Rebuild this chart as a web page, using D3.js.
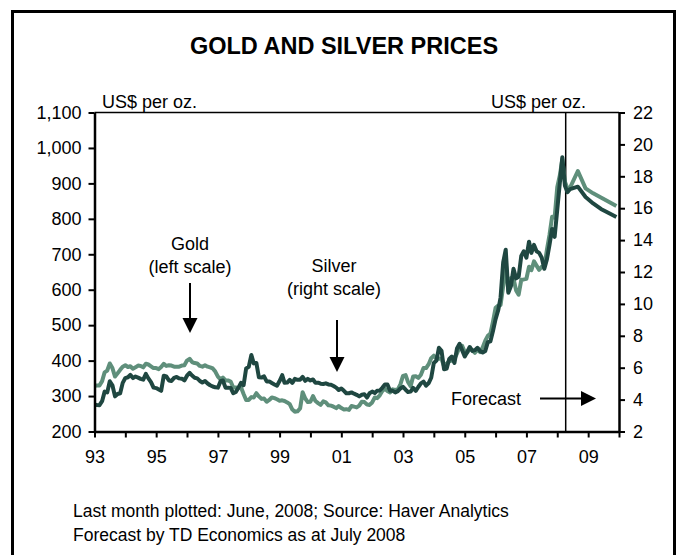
<!DOCTYPE html>
<html>
<head>
<meta charset="utf-8">
<script src="https://cdn.jsdelivr.net/npm/d3@7"></script>
<style>
  html, body { margin: 0; padding: 0; background: #fff; }
  svg { display: block; font-family: "Liberation Sans", Arial, sans-serif; }
</style>
</head>
<body>
<svg id="chart" width="681" height="555"></svg>
<script>
// Monthly averages, January 1993 to June 2008 (US$ per troy ounce)
const firstYear = 1993;
const goldActual = [
  329, 330, 330, 342, 367, 372, 392, 379, 355, 364, 374, 383,   // 1993
  387, 382, 384, 377, 381, 386, 385, 381, 391, 389, 384, 379,   // 1994
  379, 376, 382, 391, 385, 387, 386, 383, 383, 383, 386, 387,   // 1995
  400, 405, 396, 393, 392, 385, 383, 387, 383, 381, 378, 369,   // 1996
  355, 347, 352, 344, 344, 341, 324, 324, 323, 325, 306, 289,   // 1997
  289, 297, 296, 308, 299, 292, 293, 284, 289, 296, 294, 291,   // 1998
  287, 288, 286, 282, 277, 262, 256, 257, 265, 311, 293, 283,   // 1999
  284, 300, 286, 280, 275, 285, 282, 274, 273, 270, 266, 272,   // 2000
  266, 262, 263, 261, 272, 270, 268, 273, 284, 283, 276, 275,   // 2001
  282, 296, 294, 302, 314, 321, 314, 310, 319, 317, 319, 333,   // 2002
  357, 359, 340, 328, 355, 356, 351, 360, 379, 379, 390, 407,   // 2003
  414, 405, 406, 404, 384, 392, 398, 400, 406, 420, 439, 442,   // 2004
  424, 423, 434, 429, 422, 431, 424, 437, 456, 470, 476, 510,   // 2005
  549, 555, 557, 610, 676, 596, 633, 632, 598, 586, 628, 629,   // 2006
  631, 665, 655, 680, 668, 656, 665, 665, 713, 754, 806, 803,   // 2007
  889, 923, 968, 905, 885, 888                                  // 2008
];
const silverActual = [
  3.68, 3.66, 3.65, 3.90, 4.50, 4.45, 5.15, 4.90, 4.20, 4.35, 4.40, 5.05,   // 1993
  5.35, 5.40, 5.55, 5.35, 5.45, 5.38, 5.30, 5.25, 5.61, 5.33, 5.10, 4.75,   // 1994
  4.72, 4.63, 4.55, 5.50, 5.45, 5.20, 5.17, 5.36, 5.42, 5.33, 5.31, 5.20,   // 1995
  5.50, 5.68, 5.51, 5.37, 5.33, 5.17, 5.07, 5.16, 5.01, 4.90, 4.82, 4.77,   // 1996
  4.75, 5.15, 5.20, 4.75, 4.75, 4.73, 4.40, 4.48, 4.75, 5.05, 4.90, 5.95,   // 1997
  6.05, 6.80, 6.27, 6.30, 5.40, 5.38, 5.46, 5.14, 5.14, 5.04, 4.95, 4.87,   // 1998
  5.16, 5.53, 5.05, 5.07, 5.24, 5.05, 5.30, 5.24, 5.25, 5.42, 5.18, 5.30,   // 1999
  5.20, 5.26, 5.05, 5.06, 5.00, 4.98, 5.02, 4.95, 4.93, 4.85, 4.75, 4.60,   // 2000
  4.70, 4.55, 4.40, 4.40, 4.45, 4.37, 4.30, 4.20, 4.30, 4.33, 4.13, 4.40,   // 2001
  4.50, 4.42, 4.55, 4.57, 4.74, 4.95, 4.95, 4.56, 4.55, 4.45, 4.53, 4.70,   // 2002
  4.80, 4.62, 4.48, 4.50, 4.73, 4.55, 4.79, 5.02, 5.13, 4.87, 5.04, 5.37,   // 2003
  6.30, 6.45, 7.25, 7.06, 5.90, 5.95, 6.55, 6.70, 6.30, 7.20, 7.50, 7.10,   // 2004
  6.70, 7.00, 7.30, 7.05, 7.10, 7.25, 7.05, 6.95, 7.05, 7.60, 7.65, 8.30,   // 2005
  9.05, 9.60, 10.40, 12.60, 13.40, 10.70, 11.10, 12.20, 11.60, 11.70, 13.00, 13.30, // 2006
  12.90, 13.90, 13.20, 13.70, 13.30, 13.20, 12.90, 12.20, 12.80, 13.70, 14.70, 14.20, // 2007
  15.90, 17.60, 19.20, 17.40, 17.00, 17.20                                   // 2008
];

// Quarter-end forecast points
const forecastMonths = ["2008-09", "2008-12", "2009-03", "2009-06", "2009-09", "2009-12"];
const goldForecast   = [935, 886, 872, 860, 848, 836];
const silverForecast = [17.35, 16.70, 16.30, 15.95, 15.70, 15.45];
const forecastStart = "2008-04-10";

const goldTicks   = [200, 300, 400, 500, 600, 700, 800, 900, 1000, 1100];
const silverTicks = [2, 4, 6, 8, 10, 12, 14, 16, 18, 20, 22];
const yearTicks   = d3.range(1993, 2011);
const labelledYears = [1993, 1995, 1997, 1999, 2001, 2003, 2005, 2007, 2009];

const goldColor = "#5f8f7b";
const silverColor = "#1f4741";

const svg = d3.select("#chart");
const parseMonth = d3.timeParse("%Y-%m");
const parseDay = d3.timeParse("%Y-%m-%d");

const monthDate = i => new Date(firstYear, i, 1);
const goldSeries = goldActual.map((v, i) => ({ date: monthDate(i), value: v }))
  .concat(forecastMonths.map((m, i) => ({ date: parseMonth(m), value: goldForecast[i] })));
const silverSeries = silverActual.map((v, i) => ({ date: monthDate(i), value: v }))
  .concat(forecastMonths.map((m, i) => ({ date: parseMonth(m), value: silverForecast[i] })));

const plot = { left: 94.5, right: 619, top: 112.5, bottom: 431.5 };

const x = d3.scaleTime()
  .domain([new Date(1993, 0, 1), new Date(2010, 0, 1)])
  .range([plot.left, plot.right]);
const yGold = d3.scaleLinear().domain([200, 1100]).range([plot.bottom, plot.top]);
const ySilver = d3.scaleLinear().domain([2, 22]).range([plot.bottom, plot.top]);

// Outer frame (runs off the bottom edge)
svg.append("rect")
  .attr("x", 12.5).attr("y", 11.5)
  .attr("width", 662).attr("height", 600)
  .attr("fill", "none").attr("stroke", "#000").attr("stroke-width", 3);

svg.append("text")
  .attr("x", 344).attr("y", 54)
  .attr("text-anchor", "middle")
  .attr("font-weight", "bold").attr("font-size", 23.5)
  .text("GOLD AND SILVER PRICES");

// Top border of the plot
svg.append("line")
  .attr("x1", plot.left).attr("x2", plot.right)
  .attr("y1", plot.top).attr("y2", plot.top)
  .attr("stroke", "#000").attr("stroke-width", 1.5);

// Forecast divider
svg.append("line")
  .attr("x1", x(parseDay(forecastStart))).attr("x2", x(parseDay(forecastStart)))
  .attr("y1", plot.top).attr("y2", plot.bottom)
  .attr("stroke", "#000").attr("stroke-width", 1.5);

// Data lines
const goldLine = d3.line().x(d => x(d.date)).y(d => yGold(d.value));
const silverLine = d3.line().x(d => x(d.date)).y(d => ySilver(d.value));

svg.append("path").datum(goldSeries)
  .attr("d", goldLine)
  .attr("fill", "none").attr("stroke", goldColor)
  .attr("stroke-width", 4).attr("stroke-linejoin", "round");
svg.append("path").datum(silverSeries)
  .attr("d", silverLine)
  .attr("fill", "none").attr("stroke", silverColor)
  .attr("stroke-width", 4).attr("stroke-linejoin", "round");

// Axes
function styleAxis(g) {
  g.selectAll(".domain").attr("stroke", "#000").attr("stroke-width", 2.5);
  g.selectAll(".tick line").attr("stroke", "#000").attr("stroke-width", 2);
  g.selectAll(".tick text").attr("font-size", 18).attr("fill", "#000")
    .attr("font-family", "Liberation Sans, Arial, sans-serif");
}

svg.append("g")
  .attr("transform", `translate(${plot.left},0)`)
  .call(d3.axisLeft(yGold).tickValues(goldTicks).tickFormat(d3.format(",")).tickSize(6).tickPadding(7).tickSizeOuter(0))
  .call(styleAxis);

svg.append("g")
  .attr("transform", `translate(${plot.right},0)`)
  .call(d3.axisRight(ySilver).tickValues(silverTicks).tickSize(6).tickPadding(8).tickSizeOuter(0))
  .call(styleAxis);

svg.append("g")
  .attr("transform", `translate(0,${plot.bottom})`)
  .call(d3.axisBottom(x)
    .tickValues(yearTicks.map(yr => new Date(yr, 0, 1)))
    .tickFormat(d => labelledYears.includes(d.getFullYear()) ? d3.timeFormat("%y")(d) : "")
    .tickSize(6).tickPadding(13).tickSizeOuter(0))
  .call(styleAxis);

// Unit captions
svg.append("text").attr("x", 102).attr("y", 108).attr("font-size", 18).text("US$ per oz.");
svg.append("text").attr("x", 586).attr("y", 108).attr("font-size", 18)
  .attr("text-anchor", "end").text("US$ per oz.");

// Series annotations with arrows
function arrow(x1, y1, x2, y2) {
  const ang = Math.atan2(y2 - y1, x2 - x1);
  const len = 15, half = 7.5;
  const bx = x2 - len * Math.cos(ang), by = y2 - len * Math.sin(ang);
  svg.append("line")
    .attr("x1", x1).attr("y1", y1).attr("x2", bx).attr("y2", by)
    .attr("stroke", "#000").attr("stroke-width", 2);
  const px = -Math.sin(ang) * half, py = Math.cos(ang) * half;
  svg.append("path")
    .attr("d", `M${x2},${y2}L${bx + px},${by + py}L${bx - px},${by - py}Z`)
    .attr("fill", "#000");
}

const note = (tx, ty, str) => svg.append("text")
  .attr("x", tx).attr("y", ty).attr("font-size", 18)
  .attr("text-anchor", "middle").text(str);

note(190, 250, "Gold");
note(190, 273, "(left scale)");
arrow(190, 283, 190, 333);

note(334, 272, "Silver");
note(334, 295, "(right scale)");
arrow(337, 320, 337, 372);

svg.append("text").attr("x", 451).attr("y", 405).attr("font-size", 18).text("Forecast");
arrow(540, 398.5, 596, 398.5);

// Footnotes
svg.append("text").attr("x", 73).attr("y", 517).attr("font-size", 17.5)
  .text("Last month plotted: June, 2008;  Source: Haver Analytics");
svg.append("text").attr("x", 73).attr("y", 541).attr("font-size", 17.5)
  .text("Forecast by TD Economics as at July 2008");
</script>
</body>
</html>
